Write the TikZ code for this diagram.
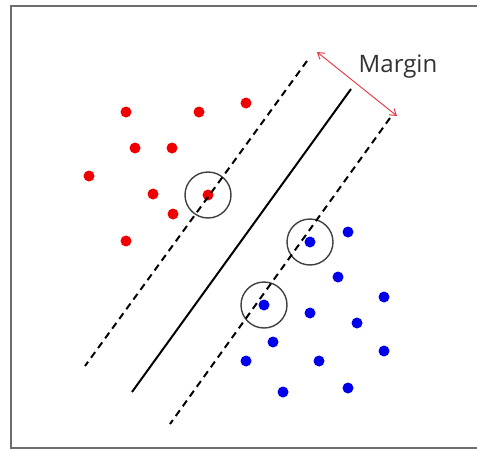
\documentclass[tikz,border=0pt]{standalone}
\usepackage{fontspec}
\setmainfont{Open Sans}
\usepackage{xcolor}
\usepackage{tikz}
\usetikzlibrary{arrows.meta, positioning}

\definecolor{framegray}{RGB}{110,110,110}
\definecolor{ptred}{RGB}{240,0,0}
\definecolor{ptblue}{RGB}{0,0,235}
\definecolor{arrowred}{RGB}{232,60,75}
\definecolor{textgray}{RGB}{50,50,50}

\begin{document}
\begin{tikzpicture}[x=1pt, y=-1pt,
		reddot/.style={circle, fill=ptred, inner sep=0pt, minimum size=11pt},
		bluedot/.style={circle, fill=ptblue, inner sep=0pt, minimum size=11pt},
		ring/.style={circle, draw=black!75, line width=1.4pt, inner sep=0pt, minimum size=46pt},
		marginline/.style={line width=2pt, dash pattern=on 7pt off 5pt},
		hyperplane/.style={line width=2pt}]
			\useasboundingbox (0, 0) rectangle (477, 450);
			% Frame:
			\draw[framegray, line width=2.5pt] (11, 6) rectangle (490, 448);
			% Class one (red):
			\node[reddot](R1) at (126, 112){};
			\node[reddot](R2) at (199, 112){};
			\node[reddot](R3) at (246, 103){};
			\node[reddot](R4) at (135, 148){};
			\node[reddot](R5) at (172, 148){};
			\node[reddot](R6) at (89, 176){};
			\node[reddot](R7) at (153, 194){};
			\node[reddot](R8) at (208, 195){};
			\node[reddot](R9) at (173, 214){};
			\node[reddot](R10) at (126, 241){};
			% Class two (blue):
			\node[bluedot](B1) at (348, 232){};
			\node[bluedot](B2) at (310, 242){};
			\node[bluedot](B3) at (338, 277){};
			\node[bluedot](B4) at (384, 297){};
			\node[bluedot](B5) at (264, 305){};
			\node[bluedot](B6) at (310, 313){};
			\node[bluedot](B7) at (357, 323){};
			\node[bluedot](B8) at (273, 342){};
			\node[bluedot](B9) at (384, 351){};
			\node[bluedot](B10) at (246, 361){};
			\node[bluedot](B11) at (319, 361){};
			\node[bluedot](B12) at (283, 392){};
			\node[bluedot](B13) at (348, 388){};
			% Support vectors:
			\node[ring](S1) at (R8){};
			\node[ring](S2) at (B2){};
			\node[ring](S3) at (B5){};
			% Separating line and margins:
			\coordinate (H1) at (351, 89);
			\coordinate (H2) at (132, 392);
			\coordinate (U1) at (307, 61);
			\coordinate (U2) at (85, 366);
			\coordinate (L1) at (390, 118);
			\coordinate (L2) at (170, 424);
			\draw[hyperplane] (H1) -- (H2);
			\draw[marginline] (U1) -- (U2);
			\draw[marginline] (L1) -- (L2);
			% Margin width:
			\coordinate (M1) at (317, 52);
			\coordinate (M2) at (397, 116);
			\draw[arrowred, line width=1pt, {Straight Barb[length=6pt, width=8pt]}-{Straight Barb[length=6pt, width=8pt]}] (M1) -- (M2);
			\node[textgray, font=\fontsize{24}{27}\selectfont](T1) at (398, 67){Margin};
		\end{tikzpicture}
\end{document}
